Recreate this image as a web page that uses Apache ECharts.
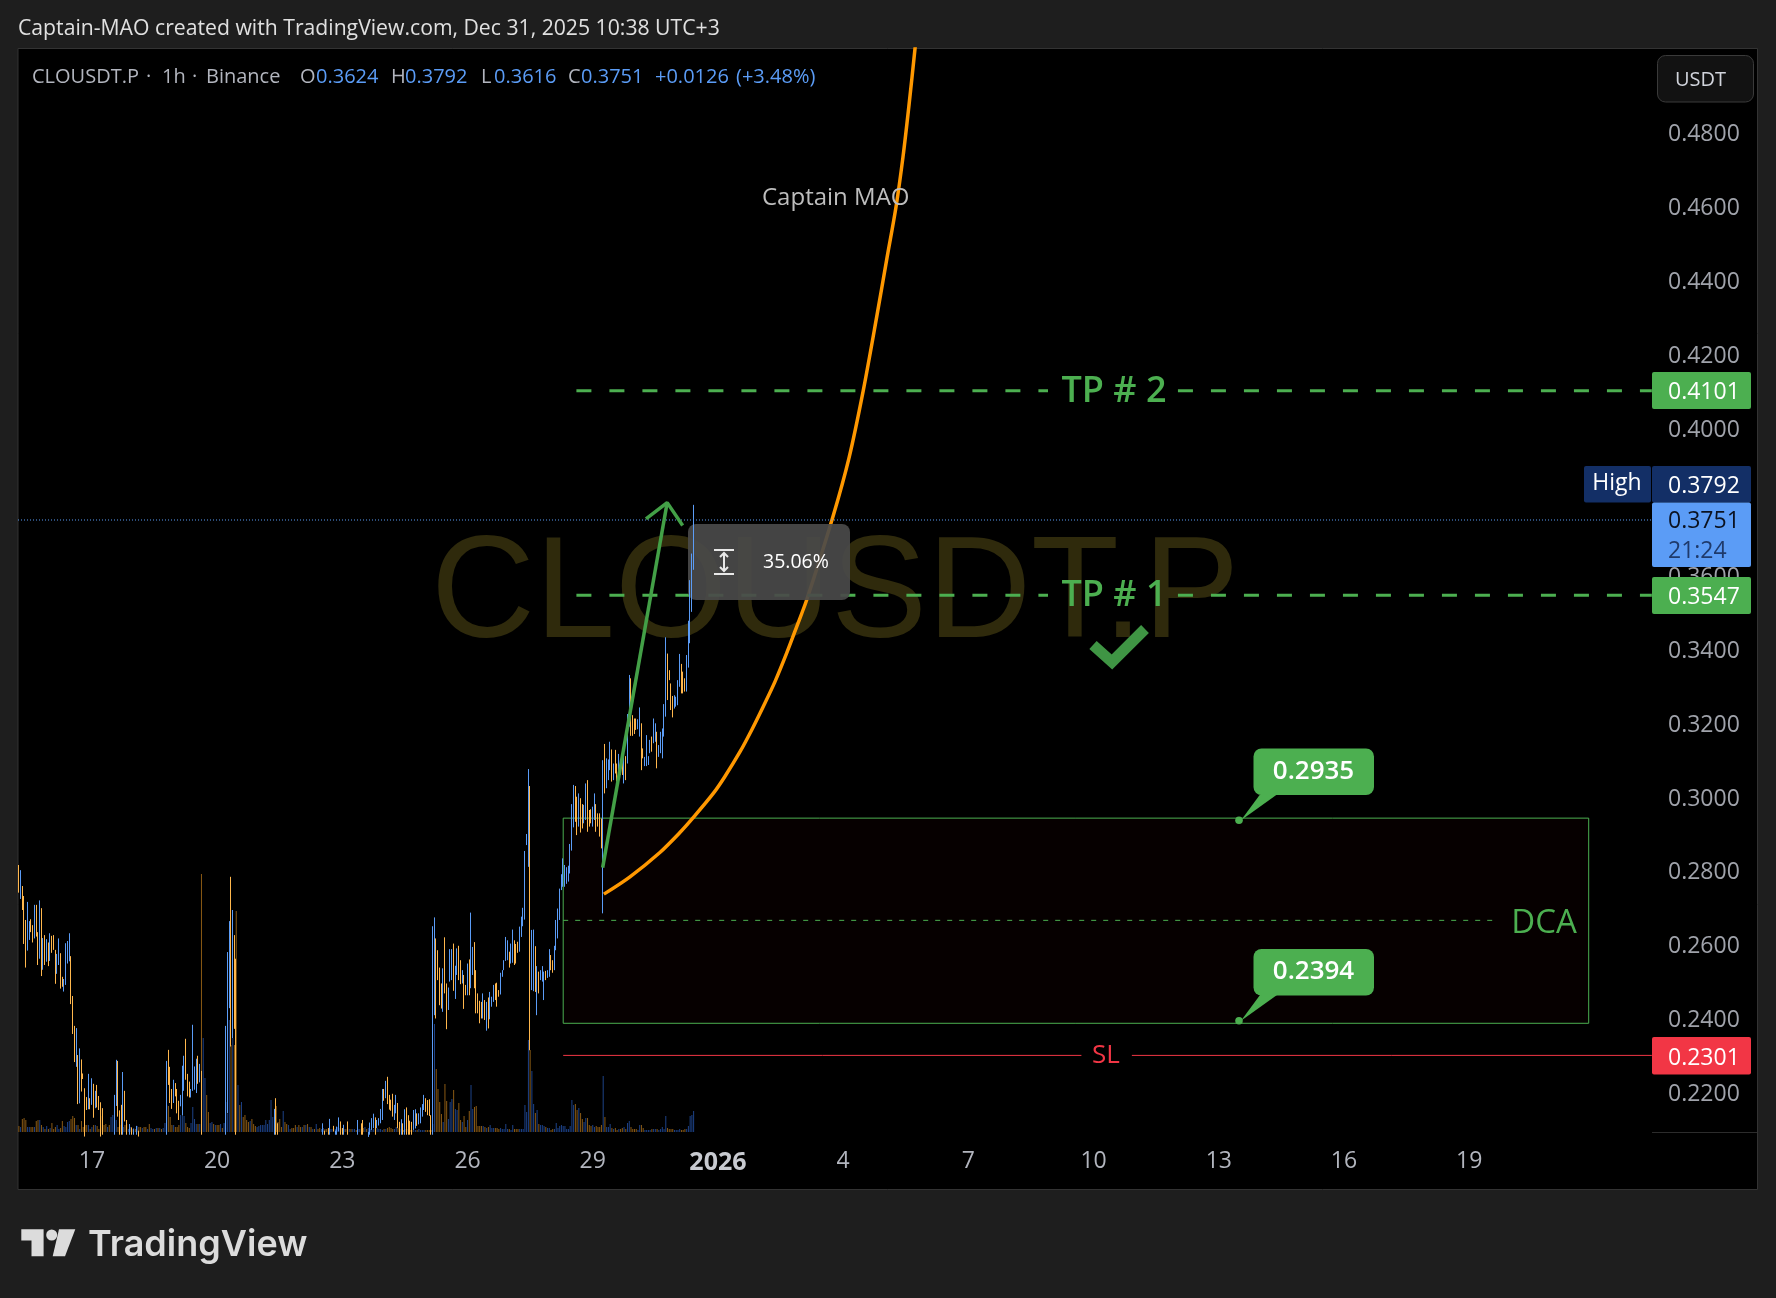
<!DOCTYPE html>
<html>
<head>
<meta charset="utf-8">
<title>CLOUSDT.P</title>
<script src="https://cdn.jsdelivr.net/npm/echarts@6/dist/echarts.min.js"></script>
<style>
  html, body { margin: 0; padding: 0; background: #1e1e1e; }
  #chart { width: 1776px; height: 1298px; }
</style>
</head>
<body>
<div id="chart"></div>
<script>
// hourly candles, one line = 10 candles
const highs = [
  .2816,.2802,.2759,.2732,.2667,.2716,.2664,.2669,.2653,.2708,
  .2708,.2634,.2720,.2699,.2618,.2626,.2615,.2606,.2631,.2624,
  .2626,.2586,.2575,.2617,.2577,.2513,.2507,.2604,.2610,.2631,
  .2569,.2461,.2380,.2374,.2301,.2319,.2289,.2251,.2211,.2187,
  .2250,.2184,.2238,.2223,.2204,.2220,.2190,.2173,.2157,.2085,
  .2075,.2080,.2078,.2085,.2088,.2193,.2288,.2285,.2151,.2166,
  .2255,.2204,.2125,.2088,.2114,.2105,.2100,.2088,.2109,.2096,
  .2086,.2082,.2084,.2080,.2083,.2079,.2082,.2086,.2084,.2081,
  .2085,.2083,.2080,.2086,.2088,.2285,.2315,.2269,.2209,.2234,
  .2225,.2209,.2177,.2193,.2272,.2299,.2345,.2250,.2229,.2209,
  .2383,.2270,.2291,.2299,.2277,.2258,.2087,.2083,.2080,.2084,
  .2079,.2081,.2085,.2082,.2086,.2083,.2080,.2084,.2088,.2380,
  .2580,.2664,.2784,.2694,.2626,.2562,.2087,.2083,.2085,.2080,
  .2084,.2079,.2082,.2086,.2081,.2083,.2085,.2080,.2084,.2082,
  .2086,.2083,.2081,.2085,.2088,.2090,.2092,.2155,.2184,.2116,
  .2082,.2080,.2084,.2086,.2081,.2083,.2079,.2082,.2085,.2083,
  .2081,.2084,.2086,.2083,.2080,.2082,.2085,.2084,.2081,.2083,
  .2085,.2082,.2084,.2086,.2088,.2116,.2096,.2088,.2103,.2128,
  .2090,.2109,.2096,.2107,.2132,.2121,.2103,.2112,.2090,.2121,
  .2088,.2086,.2089,.2087,.2090,.2125,.2090,.2116,.2125,.2092,
  .2090,.2093,.2118,.2130,.2142,.2132,.2125,.2130,.2155,.2209,
  .2209,.2231,.2242,.2193,.2180,.2196,.2166,.2193,.2171,.2120,
  .2127,.2116,.2154,.2159,.2138,.2123,.2120,.2152,.2154,.2143,
  .2143,.2159,.2168,.2193,.2184,.2179,.2181,.2138,.2650,.2674,
  .2617,.2585,.2538,.2495,.2536,.2620,.2495,.2484,.2588,.2588,
  .2603,.2543,.2590,.2597,.2558,.2531,.2518,.2491,.2549,.2560,
  .2687,.2594,.2607,.2531,.2468,.2448,.2445,.2468,.2450,.2445,
  .2457,.2472,.2459,.2491,.2495,.2497,.2477,.2524,.2531,.2558,
  .2621,.2612,.2581,.2603,.2641,.2612,.2602,.2608,.2649,.2676,
  .2700,.2854,.2900,.3076,.3030,.2640,.2641,.2596,.2542,.2527,
  .2531,.2542,.2527,.2529,.2531,.2588,.2572,.2558,.2597,.2667,
  .2698,.2752,.2791,.2834,.2816,.2810,.2814,.2873,.2981,.3033,
  .3030,.3001,.3010,.2997,.2981,.2979,.3037,.3046,.2965,.2967,
  .2974,.3010,.2981,.2956,.2956,.2942,.3100,.3144,.3105,.3102,
  .3150,.3129,.3091,.3128,.3091,.3117,.3100,.3100,.3132,.3111,
  .3225,.3331,.3322,.3222,.3213,.3213,.3211,.3243,.3200,.3132,
  .3109,.3168,.3111,.3155,.3164,.3213,.3200,.3177,.3141,.3177,
  .3186,.3252,.3433,.3389,.3344,.3308,.3274,.3276,.3272,.3317,
  .3388,.3361,.3340,.3322,.3385,.3478,.3588,.3660,.3792
]
const lows = [
  .2741,.2724,.2694,.2602,.2538,.2584,.2613,.2634,.2606,.2617,
  .2622,.2545,.2562,.2515,.2532,.2545,.2554,.2542,.2556,.2578,
  .2586,.2494,.2521,.2545,.2481,.2486,.2473,.2491,.2549,.2555,
  .2439,.2358,.2282,.2269,.2168,.2170,.2202,.2236,.2080,.2152,
  .2154,.2154,.2166,.2131,.2157,.2159,.2152,.2080,.2085,.2060,
  .2050,.2055,.2052,.2060,.2065,.2085,.2163,.2134,.2085,.2085,
  .2085,.2121,.2085,.2070,.2085,.2085,.2085,.2072,.2085,.2080,
  .2070,.2068,.2066,.2064,.2068,.2062,.2066,.2070,.2068,.2065,
  .2070,.2067,.2064,.2072,.2074,.2085,.2220,.2171,.2155,.2171,
  .2189,.2143,.2125,.2162,.2137,.2204,.2234,.2189,.2186,.2186,
  .2204,.2207,.2198,.2223,.2227,.2085,.2072,.2066,.2064,.2068,
  .2062,.2065,.2070,.2066,.2070,.2067,.2064,.2068,.2074,.2085,
  .2143,.2428,.2324,.2347,.2372,.2085,.2072,.2068,.2070,.2064,
  .2068,.2062,.2066,.2070,.2065,.2067,.2070,.2064,.2068,.2066,
  .2070,.2067,.2065,.2070,.2074,.2076,.2078,.2085,.2085,.2085,
  .2066,.2064,.2068,.2070,.2065,.2067,.2062,.2066,.2070,.2067,
  .2065,.2068,.2070,.2067,.2064,.2066,.2070,.2068,.2065,.2067,
  .2070,.2066,.2068,.2070,.2072,.2085,.2085,.2072,.2085,.2085,
  .2075,.2094,.2085,.2085,.2094,.2085,.2085,.2085,.2075,.2085,
  .2074,.2070,.2072,.2071,.2075,.2085,.2075,.2085,.2085,.2078,
  .2076,.2079,.2085,.2098,.2103,.2085,.2103,.2110,.2116,.2125,
  .2177,.2184,.2168,.2153,.2150,.2134,.2125,.2143,.2103,.2085,
  .2085,.2085,.2085,.2085,.2085,.2085,.2085,.2098,.2102,.2109,
  .2113,.2116,.2134,.2152,.2147,.2138,.2136,.2085,.2085,.2409,
  .2400,.2504,.2436,.2427,.2418,.2468,.2371,.2423,.2500,.2504,
  .2475,.2453,.2518,.2504,.2493,.2495,.2426,.2463,.2463,.2463,
  .2482,.2518,.2482,.2414,.2414,.2387,.2400,.2400,.2396,.2367,
  .2373,.2398,.2432,.2445,.2450,.2432,.2459,.2465,.2513,.2531,
  .2556,.2558,.2538,.2549,.2551,.2545,.2549,.2578,.2581,.2621,
  .2650,.2668,.2870,.2811,.2314,.2477,.2474,.2472,.2409,.2468,
  .2504,.2500,.2450,.2504,.2510,.2513,.2531,.2524,.2531,.2585,
  .2617,.2667,.2748,.2757,.2757,.2765,.2771,.2793,.2855,.2918,
  .2933,.2897,.2920,.2904,.2915,.2929,.2938,.2906,.2920,.2929,
  .2920,.2938,.2906,.2920,.2893,.2861,.2685,.3010,.3024,.3046,
  .3073,.3042,.3046,.3064,.3042,.3046,.3060,.3060,.3037,.3046,
  .3091,.3191,.3166,.3166,.3171,.3182,.3184,.3164,.3073,.3105,
  .3084,.3084,.3087,.3119,.3123,.3146,.3150,.3078,.3109,.3119,
  .3105,.3164,.3218,.3263,.3317,.3236,.3216,.3240,.3245,.3249,
  .3299,.3281,.3281,.3286,.3286,.3351,.3417,.3502,.3616
]
// 1 = rising candle (blue), 0 = falling (orange)
const ups = [
  0,1,0,0,0,1,1,0,0,1, 0,0,1,0,1,0,1,0,1,0, 0,0,1,1,0,0,1,1,1,1, 0,0,0,1,0,1,0,0,0,0,
  1,0,1,0,1,0,0,0,0,0, 0,1,0,1,1,1,1,0,0,0, 1,0,0,1,1,0,1,0,1,0, 0,1,0,0,1,0,1,1,0,1,
  0,1,0,1,1,1,0,0,0,1, 0,0,0,1,1,1,0,0,0,1, 1,1,1,0,1,0,1,1,0,0, 1,1,0,1,0,0,1,0,1,1,
  1,1,0,1,0,0,1,0,1,0, 0,0,0,1,0,0,0,1,1,1, 1,1,1,1,1,1,1,1,0,0, 0,0,1,0,0,1,1,0,0,0,
  1,0,0,1,0,1,0,1,0,1, 0,1,0,0,1,1,0,0,0,1, 1,0,1,1,1,0,0,1,0,0, 1,0,1,1,0,1,1,0,0,1,
  0,1,1,1,1,0,1,1,1,1, 0,1,0,0,0,0,1,1,0,0, 1,0,1,0,0,0,0,1,1,0, 1,1,1,1,0,0,0,0,1,1,
  0,0,0,0,1,0,0,1,1,1, 0,1,1,0,0,1,0,0,1,0, 1,1,0,0,0,0,0,1,0,1, 0,1,1,1,0,0,0,1,1,1,
  1,1,0,1,1,0,0,0,1,1, 1,1,1,1,0,1,1,0,1,0, 1,1,1,0,1,1,0,0,1,1, 1,1,1,1,1,1,1,1,1,1,
  0,0,1,0,0,1,1,0,0,0, 1,1,0,0,0,0,1,0,1,1, 1,0,1,0,0,1,0,0,1,0, 1,1,0,0,0,0,1,1,0,0,
  1,1,1,1,0,1,1,0,1,1, 1,1,1,0,0,0,0,1,1,1, 1,0,0,0,1,1,1,1,1
]
const volumes = [
  6,5,13,14,12,5,5,5,5,5, 11,12,12,7,5,3,6,3,4,9, 3,5,7,3,4,11,6,5,10,11, 13,16,14,7,7,3,11,5,7,7,
  7,3,5,7,7,6,3,24,16,7, 8,5,7,15,17,12,12,5,7,8, 5,7,8,3,5,3,4,3,6,5, 5,4,5,5,3,8,4,3,3,4,
  4,4,3,4,9,27,26,15,7,7, 5,5,7,17,16,16,9,5,4,9, 25,13,8,8,8,258,94,54,37,20, 9,10,8,7,7,7,8,4,9,30,
  18,112,87,94,87,221,47,27,30,15, 17,12,10,11,13,8,6,5,6,7, 7,7,12,8,12,32,15,23,26,10, 13,5,21,10,8,7,3,4,4,7,
  5,7,5,5,7,7,8,5,5,3, 3,8,3,4,3,4,3,3,4,3, 3,4,3,5,4,3,4,3,3,4, 3,3,3,3,2,3,3,3,4,5,
  3,4,3,2,3,4,4,3,3,2, 3,3,4,5,4,3,3,5,4,3, 2,2,3,3,3,2,2,2,2,2, 3,2,2,2,2,2,2,2,8,108,
  63,43,30,18,10,48,31,13,30,33, 42,23,22,29,12,10,16,5,12,21, 47,23,25,26,6,6,6,6,5,4, 5,7,4,4,4,4,3,4,3,3,
  8,3,3,2,7,3,3,3,3,3, 3,27,20,92,82,61,28,19,22,8, 7,7,6,5,4,4,2,3,3,9, 4,6,7,6,6,3,3,6,32,27,
  28,22,24,19,13,10,14,14,7,6, 7,5,6,5,5,7,56,15,5,5, 8,4,3,4,2,3,3,4,5,3, 9,11,5,3,3,3,2,7,7,4,
  2,2,2,2,3,3,3,3,2,3, 5,3,16,4,3,3,3,2,2,2, 3,2,2,3,3,6,16,17,21
]
// orange curve, [hours from 1 Jan, price]
const curvePoints = [
  [-65.6,.2737],[-50.6,.2784],[-33.4,.2850],[-21.9,.2904],[-14.5,.2943],[-2.7,.3010],[4.0,.3056],
  [12.7,.3123],[19.4,.3182],[26.0,.3245],[32.8,.3313],[39.5,.3390],[45.3,.3462],[51.0,.3534],
  [66.1,.3760],[75.3,.3918],[83.6,.4103],[91.3,.4302],[97.0,.4456],[102.4,.4600],[106.4,.4735],
  [109.8,.4873],[113.3,.5028],[115.0,.5112]
]
const arrowLine = [[-66.3,.2809],[-29.2,.3798]]
const arrowHead = [[-41.4,.3754],[-29.2,.3798],[-20.3,.3736]]

const priceTicks = [.22,.24,.26,.28,.30,.32,.34,.36,.40,.42,.44,.46,.48]
const xTickDates = [
  Date.UTC(2025,11,17), Date.UTC(2025,11,20), Date.UTC(2025,11,23), Date.UTC(2025,11,26),
  Date.UTC(2025,11,29), Date.UTC(2026,0,1), Date.UTC(2026,0,4), Date.UTC(2026,0,7),
  Date.UTC(2026,0,10), Date.UTC(2026,0,13), Date.UTC(2026,0,16), Date.UTC(2026,0,19)
]
const xTickLabels = ['17','20','23','26','29','2026','4','7','10','13','16','19']

const tp1 = 0.3547, tp2 = 0.4101, sl = 0.2300, dca = 0.2666, lastPrice = 0.3751
const boxTop = 0.2943, boxBottom = 0.2387

const HOUR = 3600000
const JAN1 = Date.UTC(2026, 0, 1)
const LAST_CANDLE = Date.UTC(2025, 11, 31, 10)
const at = (h) => JAN1 + h * HOUR

const BLUE = '#5b9cf6', ORANGE = '#ffb74d', GREEN = '#4caf50', RED = '#f23645'
const FONT = '"Open Sans", "Noto Sans", sans-serif'

const n = highs.length
const times = highs.map((v, i) => LAST_CANDLE - (n - 1 - i) * HOUR)
const candles = highs.map((h, i) =>
  ups[i] ? [times[i], lows[i], h, lows[i], h] : [times[i], h, lows[i], lows[i], h])
const volumeBars = volumes.map((v, i) => ({
  value: [times[i], v],
  itemStyle: { color: ups[i] ? '#1d4288' : '#8a5a14' }
}))

// plain line piece given in hours/price
function seg(points, color, width, dash, z) {
  return {
    type: 'line', data: points.map(p => [at(p[0]), p[1]]), symbol: 'none', silent: true, z: z || 3,
    lineStyle: { color: color, width: width, type: dash || 'solid', cap: 'butt' }
  }
}

function txt(x, y, str, size, color, o) {
  o = o || {}
  return {
    type: 'text', z: o.z === undefined ? 12 : o.z, x: x, y: y + 2, silent: true,
    style: {
      text: str, fontSize: size, fill: color, fontFamily: o.font || FONT, fontWeight: o.weight || 400,
      textAlign: o.align || 'left', textVerticalAlign: 'middle'
    }
  }
}
function rect(x, y, w, h, fill, o) {
  o = o || {}
  return {
    type: 'rect', z: o.z === undefined ? 10 : o.z, silent: true,
    shape: { x: x, y: y, width: w, height: h, r: o.r || 0 },
    style: { fill: fill, stroke: o.stroke || null, lineWidth: o.stroke ? 1 : 0 }
  }
}
function poly(points, fill, z) {
  return { type: 'polygon', z: z || 10, silent: true, shape: { points: points }, style: { fill: fill } }
}
function pline(points, color, width, z) {
  return {
    type: 'polyline', z: z || 12, silent: true, shape: { points: points },
    style: { stroke: color, lineWidth: width, fill: null, lineCap: 'butt', lineJoin: 'miter' }
  }
}
function callout(top, dotY, label) {
  return [
    poly([[1260, top + 46], [1277, top + 46], [1241, dotY]], GREEN, 10),
    rect(1253.5, top, 120.5, 46.5, GREEN, { r: 8 }),
    { type: 'circle', z: 10, silent: true, shape: { cx: 1239, cy: dotY, r: 3.8 }, style: { fill: GREEN } },
    txt(1313.5, top + 21, label, 26, '#fff', { align: 'center', weight: 600 })
  ]
}
function priceTag(y, h, fill, label, color) {
  return [
    rect(1652, y, 99, h, fill, { r: 2, z: 9 }),
    txt(1668, y + h / 2, label, 23, color)
  ]
}

const graphics = [
  rect(0, 0, 1776, 1298, '#1e1e1e', { z: -20 }),
  rect(18, 48.5, 1739.5, 1141, '#000', { z: -19, stroke: '#333' }),
  { type: 'line', z: 1, silent: true, shape: { x1: 1652, y1: 1132.5, x2: 1757, y2: 1132.5 }, style: { stroke: '#2c2c2c', lineWidth: 1 } },

  txt(18, 27, 'Captain-MAO created with TradingView.com, Dec 31, 2025 10:38 UTC+3', 21.2, '#e0e0e0'),

  txt(32, 75, 'CLOUSDT.P', 20, '#b2b5be'), txt(146, 75, '·', 20, '#b2b5be'),
  txt(162, 75, '1h', 20, '#b2b5be'), txt(192, 75, '·', 20, '#b2b5be'),
  txt(206, 75, 'Binance', 20, '#b2b5be'),
  txt(300, 75, 'O', 20, '#b2b5be'), txt(316, 75, '0.3624', 20, BLUE),
  txt(391, 75, 'H', 20, '#b2b5be'), txt(405, 75, '0.3792', 20, BLUE),
  txt(481, 75, 'L', 20, '#b2b5be'), txt(494, 75, '0.3616', 20, BLUE),
  txt(568, 75, 'C', 20, '#b2b5be'), txt(581, 75, '0.3751', 20, BLUE),
  txt(655, 75, '+0.0126', 20, BLUE), txt(736, 75, '(+3.48%)', 20, BLUE),

  rect(1657.5, 55.5, 96, 46.5, '#121212', { r: 8, stroke: '#3a3a3a' }),
  txt(1675, 78, 'USDT', 20, '#d1d4dc'),

  txt(431, 595, 'CLOUSDT.P', 144, '#2f2a0c', { font: '"Liberation Sans", Arial, sans-serif', z: 0 }),
  txt(762, 196, 'Captain MAO', 24, '#bdbdbd'),

  txt(1114, 390, 'TP # 2', 36, GREEN, { align: 'center', weight: 600 }),
  txt(1114, 594, 'TP # 1', 36, GREEN, { align: 'center', weight: 600 }),
  pline([[1093, 645], [1112, 662], [1145, 629]], '#3f9544', 11),

  rect(688, 524, 162, 76, 'rgba(74,74,74,0.92)', { r: 8, z: 4 }),
  pline([[714, 550], [734, 550]], '#e8e8e8', 2),
  pline([[714, 574], [734, 574]], '#e8e8e8', 2),
  pline([[724, 553], [724, 571]], '#e8e8e8', 2),
  pline([[720, 557], [724, 553], [728, 557]], '#e8e8e8', 2),
  pline([[720, 567], [724, 571], [728, 567]], '#e8e8e8', 2),
  txt(763, 560, '35.06%', 19.5, '#fff'),

  txt(1544, 922, 'DCA', 33, GREEN, { align: 'center' }),
  txt(1106, 1054, 'SL', 26, RED, { align: 'center' }),
  ...callout(748.5, 820.3, '0.2935'),
  ...callout(949, 1020.7, '0.2394'),

  ...priceTag(372, 37, GREEN, '0.4101', '#fff'),
  rect(1584, 466, 67, 36.5, '#132f66', { r: 2 }),
  txt(1617, 481, 'High', 23, '#fff', { align: 'center' }),
  rect(1652, 466, 99, 36.5, '#132f66', { r: 2, z: 9 }),
  txt(1668, 484, '0.3792', 23, '#fff'),
  rect(1652, 502.5, 99, 64.5, BLUE, { r: 2, z: 9 }),
  txt(1668, 519, '0.3751', 23, '#0b1220'),
  txt(1668, 549, '21:24', 23, '#1f3a6b'),
  ...priceTag(577, 37, GREEN, '0.3547', '#fff'),
  rect(1652, 1037, 99, 37.5, RED, { r: 2, z: 9 }),
  txt(1668, 1056, '0.2301', 23, '#fff'),

  // logo
  poly([[21.3, 1229.3], [43.6, 1229.3], [43.6, 1256.3], [31.5, 1256.3], [31.5, 1240.5], [21.3, 1240.5]], '#dcdcdc'),
  { type: 'circle', z: 10, silent: true, shape: { cx: 51.7, cy: 1235, r: 5.5 }, style: { fill: '#dcdcdc' } },
  poly([[59, 1229.3], [75.3, 1229.3], [65, 1256.3], [52.7, 1256.3]], '#dcdcdc'),
  txt(88, 1243, 'TradingView', 36, '#dcdcdc', { font: 'Inter, sans-serif', weight: 600 })
]

const curve = seg(curvePoints, '#ff9800', 3.5, 'solid', 3)
curve.smooth = 0.3

const series = [
  {
    type: 'bar', data: volumeBars, yAxisIndex: 1, barWidth: 1, z: 1, silent: true
  },
  {
    type: 'candlestick', data: candles, encode: { x: 0, y: [1, 2, 3, 4] }, barWidth: 1, z: 5, silent: true, clip: true,
    itemStyle: { color: BLUE, color0: ORANGE, borderColor: BLUE, borderColor0: ORANGE, borderWidth: 1 }
  },
  // entry box
  {
    type: 'line', data: [], silent: true, z: 3,
    markArea: {
      silent: true,
      itemStyle: { color: 'rgba(20,0,0,0.3)', borderColor: GREEN, borderWidth: 1 },
      data: [[{ coord: [at(-89), boxTop] }, { coord: [at(500.7), boxBottom] }]]
    }
  },
  curve,
  seg([[-81.4, tp2], [189.8, tp2]], GREEN, 3, [15, 18]),
  seg([[264.5, tp2], [537, tp2]], GREEN, 3, [15, 18]),
  seg([[-81.4, tp1], [189.8, tp1]], GREEN, 3, [15, 18]),
  seg([[264.5, tp1], [537, tp1]], GREEN, 3, [15, 18]),
  seg([[-89, dca], [446, dca]], GREEN, 1, [5, 7]),
  seg([[-89, sl], [209, sl]], RED, 1),
  seg([[238, sl], [537, sl]], RED, 1),
  seg([[-402.5, lastPrice], [537.1, lastPrice]], BLUE, 1, [1, 2]),
  seg(arrowLine, '#43a047', 3.5, 'solid', 6),
  seg(arrowHead, '#43a047', 3.5, 'solid', 6)
]

const option = {
  animation: false,
  backgroundColor: '#1e1e1e',
  grid: { left: 18, top: 49, width: 1634, height: 1083 },
  xAxis: {
    type: 'value', min: at(-402.5), max: at(537.1),
    axisLine: { show: false }, axisTick: { show: false }, splitLine: { show: false },
    axisLabel: {
      customValues: xTickDates, margin: 18, hideOverlap: false,
      color: '#b2b5be', fontSize: 23, fontFamily: FONT,
      formatter: (v) => {
        const s = xTickLabels[xTickDates.indexOf(v)]
        return s === '2026' ? '{y|2026}' : s
      },
      rich: { y: { fontWeight: 700, fontSize: 25, color: '#c8cad0', fontFamily: FONT } }
    }
  },
  yAxis: [
    {
      type: 'value', position: 'right', min: 0.20924, max: 0.50274,
      axisLine: { show: false }, axisTick: { show: false }, splitLine: { show: false },
      axisLabel: {
        customValues: priceTicks, margin: 16, hideOverlap: false,
        formatter: (v) => '{p|' + v.toFixed(4) + '}',
        rich: { p: { color: '#a0a3ab', fontSize: 23, fontFamily: FONT, padding: [4, 0, 0, 0] } }
      }
    },
    { type: 'value', show: false, min: 0, max: 1083 }
  ],
  graphic: { elements: graphics },
  series: series
}

const chart = echarts.init(document.getElementById('chart'))
chart.setOption(option)
</script>
</body>
</html>
